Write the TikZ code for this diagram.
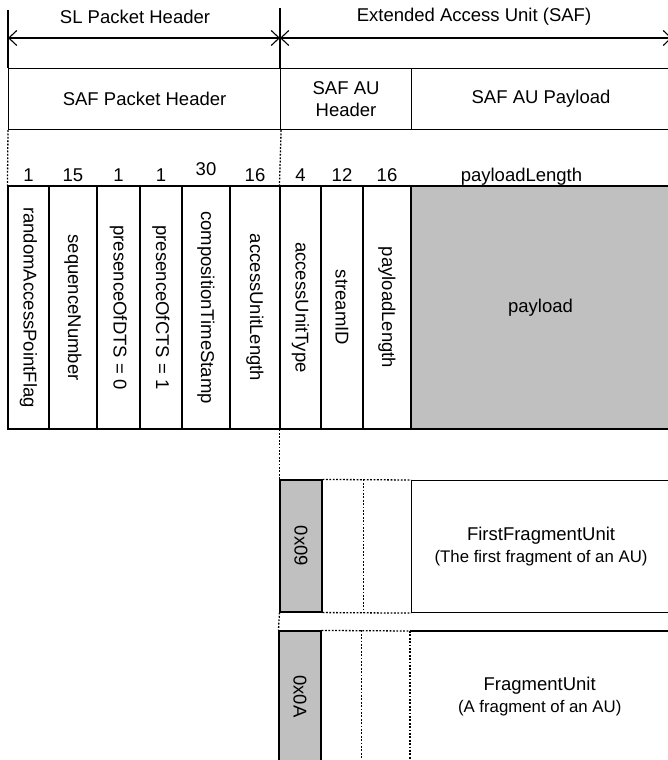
\documentclass[tikz,border=0pt]{standalone}
\usepackage{fontspec}
\setmainfont{Liberation Sans}
\usetikzlibrary{positioning,arrows.meta}
\definecolor{safgray}{RGB}{192,192,192}
\tikzset{
  txt/.style={font=\fontsize{18.5}{22}\selectfont},
  hdrbox/.style={txt, draw, line width=1.1pt, inner sep=0pt, anchor=north west, minimum height=61pt, align=center},
  field/.style={txt, draw, line width=1.1pt, inner sep=0pt, minimum height=243pt},
  bits/.style={txt, inner sep=1pt, text depth=0pt},
  tagbox/.style={txt, draw, fill=safgray, line width=1.1pt, inner sep=0pt, minimum width=42pt},
  unitbox/.style={txt, inner sep=0pt, anchor=north west, minimum width=259pt, align=center},
  dim/.style={line width=1.1pt, {Straight Barb[length=8pt,width=15pt]}-{Straight Barb[length=8pt,width=15pt]}},
  dots/.style={line width=1.3pt, dash pattern=on 1.8pt off 1.6pt},
}
\newcommand{\subtxt}{\fontsize{16.8}{20}\selectfont}
\newcommand{\drawfield}[4]{
  \node[field, minimum width={(#3-#2)*1pt}] (#1) at ({(#2+#3)/2}, 307.5) {\rotatebox{-90}{#4}};
}

\begin{document}
\begin{tikzpicture}[x=1pt,y=-1pt]
  \useasboundingbox (0,0) rectangle (668,760);

  % top brackets
  \node[txt] (slhdr) at (135,17) {SL Packet Header};
  \node[txt] (eauhdr) at (474,17) {Extended Access Unit (SAF)};
  \coordinate (slend) at (8,10);
  \coordinate (eaustart) at (280,8);
  \coordinate (eauend) at (672,38);

  \node[hdrbox, minimum width=272pt] (pkthdr) at (8,68) {SAF Packet Header};
  \node[hdrbox, minimum width=131pt] (auhdr) at (280,68) {SAF AU\\Header};
  \node[hdrbox, minimum width=259pt] (aupay) at (411,68) {SAF AU Payload};

  \draw[line width=1.1pt] (slend) -- (pkthdr.north west);
  \draw[line width=1.1pt] (eaustart) -- (auhdr.north west);
  \draw[dim] (slend |- eauend) -- (eaustart |- eauend);
  \draw[dim] (eaustart |- eauend) -- (eauend);

  % bit fields
  \drawfield{rapf}{8}{49}{randomAccessPointFlag}
  \drawfield{seqn}{49}{97}{sequenceNumber}
  \drawfield{dts}{97}{140}{presenceOfDTS = 0}
  \drawfield{cts}{140}{182}{presenceOfCTS = 1}
  \drawfield{ctstamp}{182}{230}{compositionTimeStamp}
  \drawfield{aulen}{230}{280}{accessUnitLength}
  \drawfield{autype}{280}{321}{accessUnitType}
  \drawfield{streamid}{321}{363}{streamID}
  \drawfield{plen}{363}{411}{payloadLength}
  \node[field, fill=safgray, minimum width=259pt] (payload) at (540.5,307.5) {payload};

  \foreach \f/\b in {rapf/1, seqn/15, dts/1, cts/1, aulen/16, autype/4, streamid/12, plen/16}
    \node[bits, above=3pt of \f] (\f-bits) {\b};
  \node[bits, above=3pt of ctstamp, yshift=6pt] (ctstamp-bits) {30};
  \node[bits, above=3pt of payload, xshift=-19pt] (payload-bits) {payloadLength};

  \draw[dots] (pkthdr.south west) -- (rapf.north west);
  \draw[dots] (pkthdr.south east) -- (autype.north west);

  % fragment units
  \node[tagbox, minimum height=132pt] (t09) at (301,546) {\rotatebox{-90}{0x09}};
  \node[unitbox, draw, line width=1.1pt, minimum height=132pt] (ffu) at (411,480)
    {FirstFragmentUnit\\{\subtxt (The first fragment of an AU)}};
  \draw[dots] (t09.north east) -- (ffu.north west);
  \draw[dots] (t09.south east) -- (ffu.south west);
  \draw[dots] (t09.north east -| streamid.east) -- (t09.south east -| streamid.east);

  \node[tagbox, minimum height=131pt] (t0a) at (300,696.5) {\rotatebox{-90}{0x0A}};
  \node[unitbox, minimum height=131pt] (fu) at (410,631)
    {FragmentUnit\\{\subtxt (A fragment of an AU)}};
  \draw[line width=1.1pt] (fu.north west) -- (fu.north east);
  \draw[dots] (fu.north west) -- (fu.south west);
  \draw[dots] (t0a.north east) -- (fu.north west);
  \draw[dots] ([xshift=-2pt]t0a.north east -| streamid.east) -- ([xshift=-2pt]t0a.south east -| streamid.east);

  \draw[dots] (autype.south west) -- (t09.north west);
  \draw[dots] (t09.south west) -- (t0a.north west);
\end{tikzpicture}
\end{document}
